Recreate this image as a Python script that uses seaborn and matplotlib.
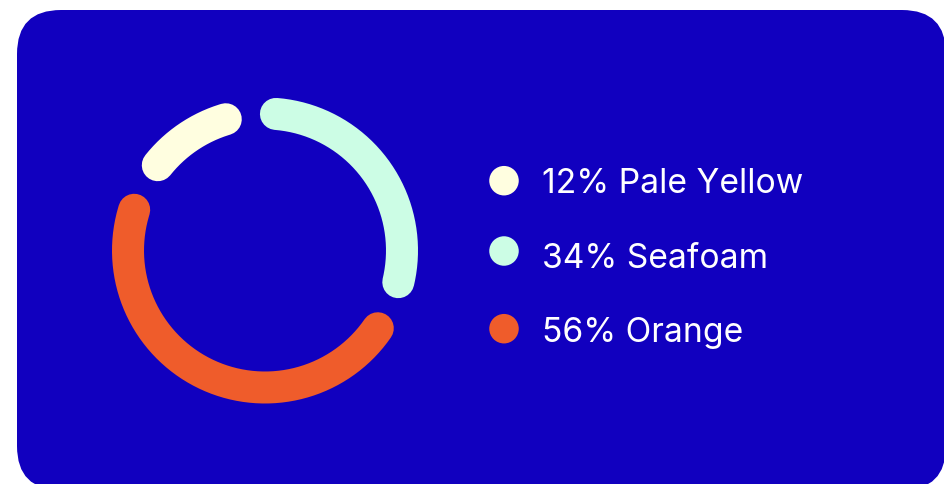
import numpy as np
import pandas as pd
import matplotlib
matplotlib.use("Agg")
import matplotlib.pyplot as plt
from matplotlib.patches import FancyBboxPatch
import seaborn as sns

# ---- data ----
labels = ["Pale Yellow", "Seafoam", "Orange"]
values = [12, 34, 56]
colors = ["#FFFEE0", "#CCFDE5", "#EF5C2B"]

BG = "#1100BF"

sns.set_theme(style="white")
plt.rcParams["font.family"] = ["Inter", "DejaVu Sans"]

W, H, DPI = 944, 484, 100
fig = plt.figure(figsize=(W / DPI, H / DPI), dpi=DPI, facecolor="white")
ax = fig.add_axes([0, 0, 1, 1])
ax.set_xlim(0, W)
ax.set_ylim(H, 0)
ax.axis("off")

# rounded card
card = FancyBboxPatch((17, 10), 929, 480,
                      boxstyle="round,pad=0,rounding_size=44",
                      facecolor=BG, edgecolor="none", zorder=0)
ax.add_patch(card)

# ---- donut arcs ----
cx, cy, r = 265, 250.5, 137
gap = 21.2          # degrees between cap centres
start = 308.5       # clockwise from top, degrees
lw_pt = 32 * 72 / DPI
avail = 360 - gap * len(values)
total = sum(values)

rows = []
ang = start
for lab, v in zip(labels, values):
    span = avail * v / total
    th = np.deg2rad(np.linspace(ang, ang + span, 200))
    seg = pd.DataFrame({"x": cx + r * np.sin(th),
                        "y": cy - r * np.cos(th),
                        "label": lab})
    rows.append(seg)
    ang += span + gap

for seg, col in zip(rows, colors):
    sns.lineplot(data=seg, x="x", y="y", sort=False, estimator=None,
                 color=col, linewidth=lw_pt, solid_capstyle="round",
                 ax=ax, legend=False, zorder=2)

# ---- legend ----
leg_y = [180.7, 251, 328.7]
txt_base = [193.3, 268.3, 341.7]
leg_df = pd.DataFrame({"x": [504] * 3, "y": leg_y, "label": labels})
sns.scatterplot(data=leg_df, x="x", y="y", hue="label", palette=colors,
                hue_order=labels, s=(29.5 * 72 / DPI) ** 2, linewidth=0,
                ax=ax, legend=False, zorder=3)
for lab, v, yb in zip(labels, values, txt_base):
    ax.text(542, yb, f"{v}% {lab}", color="white", fontsize=24.2,
            va="baseline", ha="left", zorder=4)

ax.set_xlim(0, W)
ax.set_ylim(H, 0)
ax.set_xlabel("")
ax.set_ylabel("")
fig.savefig("out.png", dpi=DPI, facecolor="white")
